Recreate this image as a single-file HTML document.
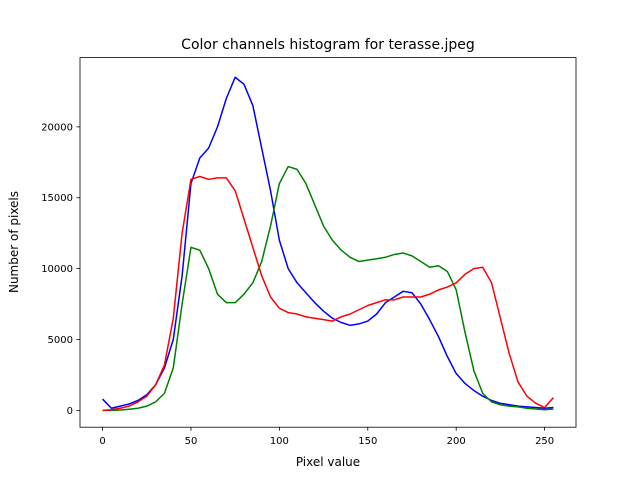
<!DOCTYPE html>
<html><head><meta charset="utf-8">
<style>body{margin:0;background:#fff}svg{display:block;font-family:"DejaVu Sans","Liberation Sans",sans-serif}</style>
</head><body>
<svg id="chart" width="640" height="480" viewBox="0 0 640 480" xmlns="http://www.w3.org/2000/svg">
<rect width="640" height="480" fill="#fff"/>
<text x="328" y="49" font-size="14" text-anchor="middle">Color channels histogram for terasse.jpeg</text>
<text x="328" y="466" font-size="12" text-anchor="middle">Pixel value</text>
<text x="0" y="0" font-size="12" text-anchor="middle" transform="translate(18,242) rotate(-90)">Number of pixels</text>
<g id="ticks"></g>
<g id="lines"></g>
<rect x="80" y="57.6" width="496" height="369.6" fill="none" stroke="#000" stroke-width="0.8"/>
</svg>
<script>
const pixelValues = [0,5,10,15,20,25,30,35,40,45,50,55,60,65,70,75,80,85,90,95,100,105,110,115,120,125,130,135,140,145,150,155,160,165,170,175,180,185,190,195,200,205,210,215,220,225,230,235,240,245,250,255];
const blueCounts = [800,150,300,450,700,1100,1800,3000,5000,9500,16000,17800,18500,20000,22000,23500,23000,21500,18500,15500,12000,10000,9000,8300,7600,7000,6500,6200,6000,6100,6300,6800,7600,8000,8400,8300,7500,6400,5200,3800,2600,1900,1400,1000,700,500,400,300,250,200,150,200];
const greenCounts = [0,0,30,80,150,300,600,1200,3000,7500,11500,11300,10000,8200,7600,7600,8200,9000,10500,13000,16000,17200,17000,16000,14500,13000,12000,11300,10800,10500,10600,10700,10800,11000,11100,10900,10500,10100,10200,9800,8500,5500,2800,1200,600,400,300,250,150,100,50,100];
const redCounts = [0,50,150,300,600,1000,1800,3200,6500,12500,16300,16500,16300,16400,16400,15500,13500,11500,9500,8000,7200,6900,6800,6600,6500,6400,6300,6600,6800,7100,7400,7600,7800,7800,8000,8000,8000,8200,8500,8700,9000,9600,10000,10100,9000,6500,4000,2000,1000,500,200,900];
const xTicks = [0,50,100,150,200,250];
const yTicks = [0,5000,10000,15000,20000];

const L=80,R=576,T=57.6,B=427.2;
const xMin=-12.75,xMax=267.75,yMin=-1185,yMax=24885;
const xs=v=>L+(v-xMin)/(xMax-xMin)*(R-L);
const ys=v=>B-(v-yMin)/(yMax-yMin)*(B-T);
const NS="http://www.w3.org/2000/svg";
const tg=document.getElementById('ticks'), lg=document.getElementById('lines');
function mk(tag,attrs,parent){const e=document.createElementNS(NS,tag);for(const k in attrs)e.setAttribute(k,attrs[k]);parent.appendChild(e);return e;}
xTicks.forEach(t=>{
  const l=mk('line',{x1:xs(t),x2:xs(t),y1:B,y2:B+3.5,stroke:'#000','stroke-width':0.8},tg);
  
  
  const tx=mk('text',{x:xs(t),y:B+17,'font-size':10,'text-anchor':'middle'},tg);
  tx.textContent=t;
  
  
});
yTicks.forEach(t=>{
  const l=mk('line',{x1:L-3.5,x2:L,y1:ys(t),y2:ys(t),stroke:'#000','stroke-width':0.8},tg);
  
  
  const tx=mk('text',{x:L-7,y:ys(t)+3.5,'font-size':10,'text-anchor':'end'},tg);
  tx.textContent=t;
  
  
});
[[blueCounts,'#0000ff','blue-channel-line'],[greenCounts,'#008000','green-channel-line'],[redCounts,'#ff0000','red-channel-line']].forEach(([d,c,n])=>{
  const pts=d.map((v,i)=>xs(pixelValues[i]).toFixed(2)+','+ys(v).toFixed(2)).join(' ');
  const p=mk('polyline',{points:pts,fill:'none',stroke:c,'stroke-width':1.5,'stroke-linejoin':'round'},lg);
  
  
});
</script>
</body></html>
